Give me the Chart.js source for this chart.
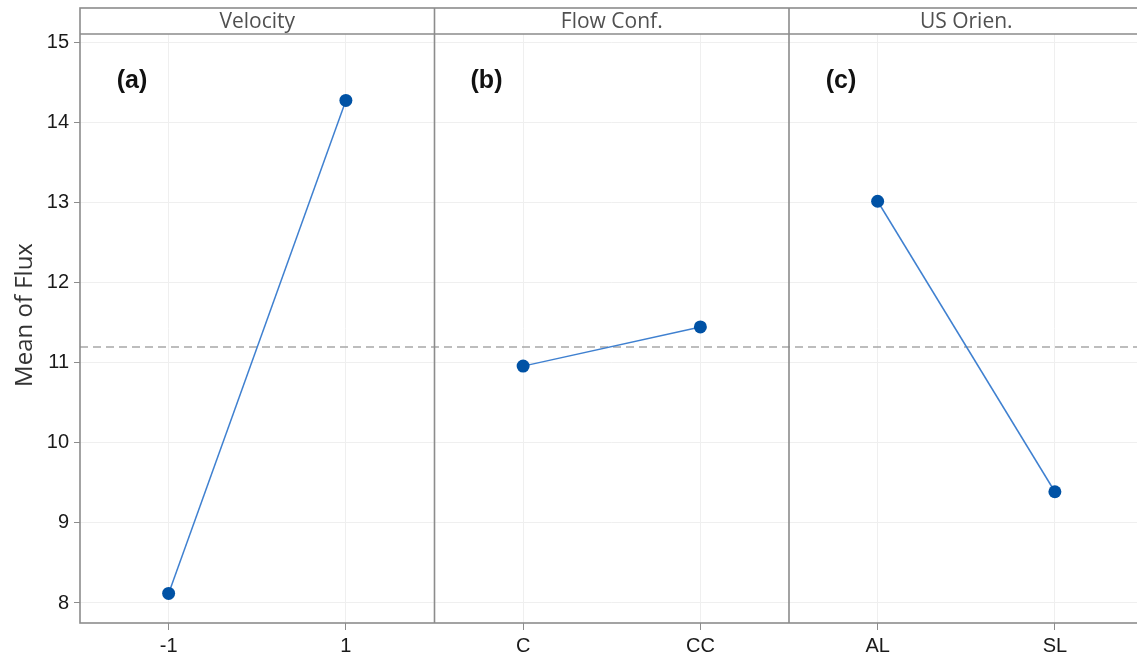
<!DOCTYPE html>
<html>
<head>
<meta charset="utf-8">
<script src="https://cdn.jsdelivr.net/npm/chart.js@4/dist/chart.umd.min.js"></script>
<style>
  html, body { margin: 0; padding: 0; background: #fff; overflow: hidden; }
  #wrap { width: 1150px; height: 661px; }
</style>
</head>
<body>
<div id="wrap"><canvas id="c" width="1150" height="661"></canvas></div>
<script>
// Main effects plot data
const factors = ['Velocity', 'Flow Conf.', 'US Orien.'];
const panelTags = ['(a)', '(b)', '(c)'];
const levels = [['-1', '1'], ['C', 'CC'], ['AL', 'SL']];
const means = [[8.12, 14.28], [10.96, 11.45], [13.02, 9.39]];
const overallMean = 11.2;
const yTicks = [8, 9, 10, 11, 12, 13, 14, 15];

// each panel spans 2 units on x, levels sit at +0.5 and +1.5
const xPos = [];
const xLabels = [];
levels.forEach((lv, i) => lv.forEach((name, j) => {
    xPos.push(2 * i + 0.5 + j);
    xLabels.push(name);
}));

const frameColor = '#8c8c8c';

const datasets = means.map((vals, i) => ({
    label: factors[i],
    data: vals.map((v, j) => ({ x: 2 * i + 0.5 + j, y: v })),
    borderColor: '#3f80d0',
    borderWidth: 1.5,
    pointRadius: 6.5,
    pointBackgroundColor: '#0052a5',
    pointBorderColor: '#0052a5',
    pointBorderWidth: 0,
    order: 1
}));

// reference line at grand mean
datasets.push({
    label: 'Mean',
    data: [{ x: 0, y: overallMean }, { x: 6, y: overallMean }],
    borderColor: '#a8a8a8',
    borderWidth: 1.5,
    borderDash: [8, 5],
    pointRadius: 0,
    order: 2
});

// panel frames, header strips, panel tags and y title
const panelPlugin = {
    id: 'panels',
    afterDatasetsDraw(chart) {
        const { ctx, chartArea: a, scales: { x } } = chart;
        const headTop = 8;
        ctx.save();
        ctx.strokeStyle = frameColor;
        ctx.lineWidth = 1.6;
        // outer frame + header strip
        ctx.strokeRect(a.left, headTop, a.right - a.left, a.bottom - headTop);
        ctx.beginPath();
        ctx.moveTo(a.left, a.top);
        ctx.lineTo(a.right, a.top);
        // dividers
        for (let i = 1; i < factors.length; i++) {
            const px = x.getPixelForValue(2 * i);
            ctx.moveTo(px, headTop);
            ctx.lineTo(px, a.bottom);
        }
        ctx.stroke();

        factors.forEach((f, i) => {
            const l = x.getPixelForValue(2 * i);
            const r = x.getPixelForValue(2 * i + 2);
            ctx.fillStyle = '#505050';
            ctx.font = '21px "Open Sans"';
            ctx.textAlign = 'center';
            ctx.textBaseline = 'middle';
            ctx.fillText(f, (l + r) / 2, (headTop + a.top) / 2 + 1);

            ctx.fillStyle = '#111';
            ctx.font = 'bold 25px "Liberation Sans"';
            ctx.fillText(panelTags[i], l + 52, a.top + 47);
        });

        // y axis title
        ctx.translate(25, 315);
        ctx.rotate(-Math.PI / 2);
        ctx.fillStyle = '#333';
        ctx.font = '24px "Open Sans"';
        ctx.textAlign = 'center';
        ctx.textBaseline = 'middle';
        ctx.fillText('Mean of Flux', 0, 0);
        ctx.restore();
    }
};

new Chart(document.getElementById('c'), {
    type: 'line',
    data: { datasets },
    options: {
        responsive: false,
        animation: false,
        layout: { padding: { top: 34, right: 6, left: 0, bottom: 0 } },
        plugins: {
            legend: { display: false },
            tooltip: { enabled: false }
        },
        scales: {
            x: {
                type: 'linear',
                min: 0,
                max: 6,
                afterBuildTicks: (s) => { s.ticks = xPos.map(v => ({ value: v })); },
                afterFit: (s) => { s.height = 38; },
                ticks: {
                    callback: (v) => xLabels[xPos.indexOf(v)],
                    font: { family: '"Liberation Sans"', size: 20 },
                    color: '#1a1a1a',
                    padding: 4,
                    maxRotation: 0,
                    autoSkip: false
                },
                grid: { color: '#efefef', lineWidth: 1, tickLength: 7, tickColor: frameColor },
                border: { display: false }
            },
            y: {
                min: 7.75,
                max: 15.11,
                afterBuildTicks: (s) => { s.ticks = yTicks.map(v => ({ value: v })); },
                afterFit: (s) => { s.width = 80; },
                ticks: {
                    font: { family: '"Liberation Sans"', size: 20 },
                    color: '#1a1a1a',
                    padding: 5
                },
                grid: { color: '#efefef', lineWidth: 1, tickLength: 6, tickColor: frameColor },
                border: { display: false }
            }
        }
    },
    plugins: [panelPlugin]
});
</script>
</body>
</html>
